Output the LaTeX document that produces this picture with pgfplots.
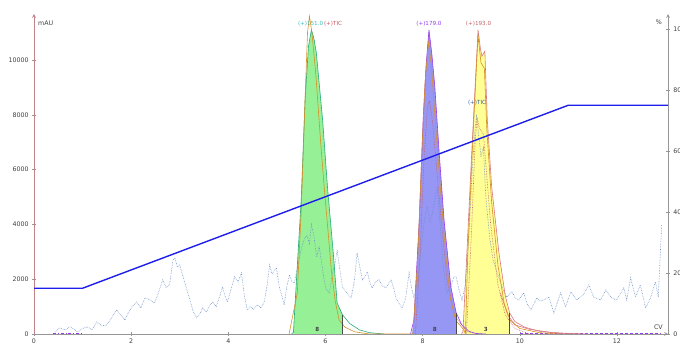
\documentclass[border=0pt]{standalone}
\usepackage{pgfplots}
\pgfplotsset{compat=1.18}
\usepackage{fontspec}
\setmainfont{DejaVu Sans}
\usetikzlibrary{arrows.meta}

\definecolor{axisgray}{RGB}{150,150,150}
\definecolor{fgreen}{RGB}{150,240,150}
\definecolor{lgreen}{RGB}{40,170,120}
\definecolor{fpurple}{RGB}{150,150,245}
\definecolor{lpurple}{RGB}{150,60,240}
\definecolor{fyellow}{RGB}{255,255,150}
\definecolor{lpink}{RGB}{215,120,130}
\definecolor{uvorange}{RGB}{215,145,40}
\definecolor{ticblue}{RGB}{110,145,200}
\definecolor{ticred}{RGB}{205,90,100}
\definecolor{gradblue}{RGB}{30,30,235}
\definecolor{labcyan}{RGB}{60,190,190}
\definecolor{labbrown}{RGB}{190,100,100}
\definecolor{labblue}{RGB}{60,100,170}

\newcommand{\tinyfont}{\fontsize{5.6}{6.5}\selectfont}
\newcommand{\tickfont}{\fontsize{6.3}{7}\selectfont}

\pgfplotsset{
  chrom/.style={
    scale only axis, width=634pt, height=320pt,
    xmin=0, xmax=13.05,
    axis line style={draw=axisgray, line width=0.7pt, -{Stealth[length=4pt,width=3.5pt]}},
    tick style={draw=axisgray, line width=0.5pt},
    major tick length=3.5pt, tick align=outside,
    ticklabel style={font=\tickfont, text=black!75},
    /pgf/number format/assume math mode=true,
    /pgf/number format/1000 sep={},
    scaled y ticks=false,
  }
}

\begin{document}
\begin{tikzpicture}
% ---- detector and mass traces (mAU)
\begin{axis}[chrom,
  ymin=0, ymax=11680,
  axis x line=bottom, axis y line=left,
  xtick={0,2,...,12}, ytick={0,2000,...,10000},
  y axis line style={draw=lpink!70!axisgray},
]
% collected fractions
\addplot[draw=none, fill=fgreen] coordinates {
 (5.34,0)(5.42,2500)(5.5,4900)(5.58,8560)(5.65,10500)(5.71,11100)(5.76,10800)
 (5.81,10280)(5.94,7830)(6.04,5380)(6.16,2960)(6.24,1130)(6.35,700)(6.35,0)} \closedcycle;
\addplot[draw=none, fill=fpurple] coordinates {
 (7.78,0)(7.82,510)(7.93,4170)(8.01,7830)(8.07,9800)(8.13,11100)(8.19,10200)
 (8.25,9040)(8.34,6620)(8.44,4170)(8.58,1720)(8.69,770)(8.69,0)} \closedcycle;
\addplot[draw=none, fill=fyellow] coordinates {
 (8.83,0)(8.91,2960)(9.01,6620)(9.08,9040)(9.14,11100)(9.19,10400)(9.22,10140)
 (9.28,10320)(9.33,7830)(9.42,5380)(9.57,2960)(9.7,1400)(9.79,770)(9.79,0)} \closedcycle;

% baseline traces
\addplot[ticred, line width=0.6pt] coordinates {(0.4,0)(13.0,0)};
\addplot[lpurple, dash dot, line width=0.6pt] coordinates {(0.4,30)(1.0,30)};
\addplot[lpurple, densely dashed, line width=0.5pt] coordinates {(10.0,20)(12.9,20)};

% TIC
\addplot[ticblue, densely dotted, line width=0.6pt] coordinates {
 (0.43,70)(0.53,220)(0.64,150)(0.74,260)(0.82,180)(0.9,70)(1.0,200)(1.1,260)(1.2,150)
 (1.29,440)(1.4,300)(1.5,330)(1.6,600)(1.7,880)(1.78,700)(1.87,510)(1.95,800)(2.02,1000)
 (2.11,1170)(2.2,950)(2.28,1320)(2.38,1250)(2.48,1130)(2.56,1500)(2.65,1980)(2.72,1700)
 (2.79,1790)(2.86,2700)(2.9,2780)(2.95,2450)(3.0,2520)(3.1,1900)(3.2,1300)(3.28,800)
 (3.35,590)(3.42,750)(3.47,950)(3.55,800)(3.62,1050)(3.68,1170)(3.75,1000)(3.82,1350)
 (3.88,1720)(3.93,1400)(3.98,1170)(4.05,1600)(4.13,2090)(4.2,1900)(4.27,2230)(4.33,1400)
 (4.39,880)(4.45,1000)(4.52,900)(4.6,1060)(4.67,950)(4.74,1170)(4.8,1800)(4.85,2520)
 (4.9,2200)(4.99,2420)(5.05,1700)(5.1,1400)(5.15,1060)(5.2,1700)(5.26,2160)(5.31,1900)
 (5.36,1870)(5.42,2400)(5.5,3100)(5.57,3500)(5.62,3600)(5.67,3300)(5.71,3990)(5.76,3600)
 (5.82,2800)(5.87,3200)(5.92,2600)(5.97,2000)(6.02,1600)(6.08,1500)(6.14,2200)(6.2,2600)
 (6.24,3070)(6.29,2400)(6.35,1720)(6.44,1500)(6.53,1320)(6.6,2000)(6.65,2960)(6.7,2500)
 (6.76,1980)(6.81,2100)(6.86,2270)(6.91,1900)(6.96,1680)(7.03,1900)(7.1,1980)(7.17,1750)
 (7.25,1680)(7.3,1850)(7.35,1980)(7.4,1700)(7.45,1320)(7.52,1100)(7.58,950)(7.65,1300)
 (7.72,2230)(7.77,1700)(7.82,1320)(7.9,2000)(7.97,3200)(8.04,4200)(8.09,4650)(8.15,4100)
 (8.2,4400)(8.3,5380)(8.36,4000)(8.42,2500)(8.5,1500)(8.58,1700)(8.64,2090)(8.69,2090)
 (8.75,1600)(8.81,1240)(8.88,1800)(8.95,3500)(9.02,6000)(9.08,7500)(9.11,7940)(9.15,7300)
 (9.2,6500)(9.25,6800)(9.3,5000)(9.38,3500)(9.45,2700)(9.52,2300)(9.6,1900)(9.66,1600)
 (9.73,1350)(9.84,1540)(9.91,1300)(9.98,1240)(10.08,1500)(10.15,1100)(10.23,880)
 (10.35,1320)(10.42,1200)(10.49,1240)(10.6,1350)(10.7,770)(10.84,1500)(10.94,990)
 (11.05,1540)(11.17,1240)(11.31,1430)(11.42,1790)(11.52,1350)(11.66,1240)(11.77,1610)
 (11.89,1320)(11.99,1240)(12.14,1680)(12.2,1240)(12.28,2050)(12.38,1350)(12.48,1790)
 (12.59,950)(12.69,1320)(12.79,1900)(12.85,1350)(12.92,3990)};

% mass traces around the fractions
\addplot[ticred, densely dotted, line width=0.6pt] coordinates {
 (7.85,0)(7.95,3000)(8.03,6500)(8.1,8300)(8.14,8500)(8.2,7800)(8.3,5800)(8.4,3800)
 (8.5,2000)(8.65,700)(8.9,100)(9.1,0)};
\addplot[ticred, densely dotted, line width=0.6pt] coordinates {
 (8.9,0)(9.0,3500)(9.08,7000)(9.12,7900)(9.17,7500)(9.25,7300)(9.3,6200)(9.4,4000)
 (9.55,1800)(9.7,700)(9.9,200)(10.2,0)};
\addplot[lgreen, line width=0.6pt] coordinates {
 (5.3,0)(5.34,60)(5.42,2500)(5.5,4900)(5.58,8560)(5.65,10500)(5.71,11100)(5.76,10800)
 (5.81,10280)(5.94,7830)(6.04,5380)(6.16,2960)(6.24,1130)(6.35,700)(6.5,380)(6.7,150)
 (6.9,50)(7.2,0)};
\addplot[lpurple, line width=0.6pt] coordinates {
 (7.75,0)(7.82,510)(7.93,4170)(8.01,7830)(8.07,9800)(8.13,11100)(8.19,10200)(8.25,9040)
 (8.34,6620)(8.44,4170)(8.58,1720)(8.69,770)(8.8,350)(8.95,100)(9.1,20)(9.3,0)};
\addplot[lpink, line width=0.6pt] coordinates {
 (8.8,0)(8.83,100)(8.91,2960)(9.01,6620)(9.08,9040)(9.14,11100)(9.19,10400)(9.22,10140)
 (9.28,10320)(9.33,7830)(9.42,5380)(9.57,2960)(9.7,1400)(9.79,770)(9.9,450)(10.1,250)
 (10.4,100)(10.8,20)(11.2,0)};
\addplot[lpink, line width=0.6pt] coordinates {
 (9.6,1500)(9.75,700)(9.9,330)(10.2,170)(10.6,70)(11.0,20)(11.4,0)};

% UV trace
\addplot[uvorange, line width=0.6pt] coordinates {
 (5.25,0)(5.42,1500)(5.5,4500)(5.58,8600)(5.63,11000)(5.67,11600)(5.72,11000)(5.8,9500)
 (5.9,7000)(5.98,5200)(6.05,3800)(6.12,2340)(6.2,1200)(6.28,510)(6.4,250)(6.6,80)(6.9,0)
 (7.8,0)(7.9,2800)(7.98,6500)(8.05,9200)(8.12,10650)(8.18,9800)(8.27,7500)(8.37,5200)
 (8.47,3000)(8.57,1300)(8.68,500)(8.85,150)(8.88,0)(8.93,3000)(9.03,7000)(9.1,9500)
 (9.14,10900)(9.2,9900)(9.27,9700)(9.32,7500)(9.42,4800)(9.55,2500)(9.68,1100)(9.8,500)
 (10.0,200)(10.4,50)(10.8,0)};

% fraction cut marks
\addplot[black!70, line width=0.6pt] coordinates {(6.35,0)(6.35,700)};
\addplot[black!70, line width=0.6pt] coordinates {(8.69,0)(8.69,770)};
\addplot[black!70, line width=0.6pt] coordinates {(9.79,0)(9.79,770)};

% fraction numbers and trace labels
\node[font=\tinyfont\bfseries, text=black!75] at (axis cs:5.83,170) {8};
\node[font=\tinyfont\bfseries, text=black!75] at (axis cs:8.25,170) {8};
\node[font=\tinyfont\bfseries, text=black!75] at (axis cs:9.3,170) {3};
\node[font=\tinyfont, anchor=west, inner sep=0pt] at (axis cs:5.43,11310)
  {\textcolor{labcyan}{(+)151.0}\,\textcolor{ticred}{(+)TIC}};
\node[font=\tinyfont, text=lpurple, inner sep=0pt] at (axis cs:8.13,11310) {(+)179.0};
\node[font=\tinyfont, text=labbrown, inner sep=0pt] at (axis cs:9.15,11310) {(+)193.0};
\node[font=\tinyfont, text=labblue, inner sep=0pt] at (axis cs:9.12,8450) {(+)TIC};
\end{axis}

% ---- solvent gradient (%)
\begin{axis}[chrom,
  ymin=0, ymax=104.9,
  hide x axis, axis y line=right,
  ytick={0,20,...,100},
]
\addplot[gradblue, line width=1.4pt] coordinates {(0,15)(1,15)(11,75)(13.05,75)};
\end{axis}

% axis titles
\node[font=\tickfont, text=black!75, anchor=west, inner sep=0pt] at (4pt,311pt) {mAU};
\node[font=\tickfont, text=black!75, anchor=east, inner sep=0pt] at (628pt,312pt) {\%};
\node[font=\tickfont, text=black!75, anchor=east, inner sep=0pt] at (629pt,7pt) {CV};

\pgfresetboundingbox
\useasboundingbox (-34pt,-13pt) rectangle (646pt,334pt);
\end{tikzpicture}
\end{document}
